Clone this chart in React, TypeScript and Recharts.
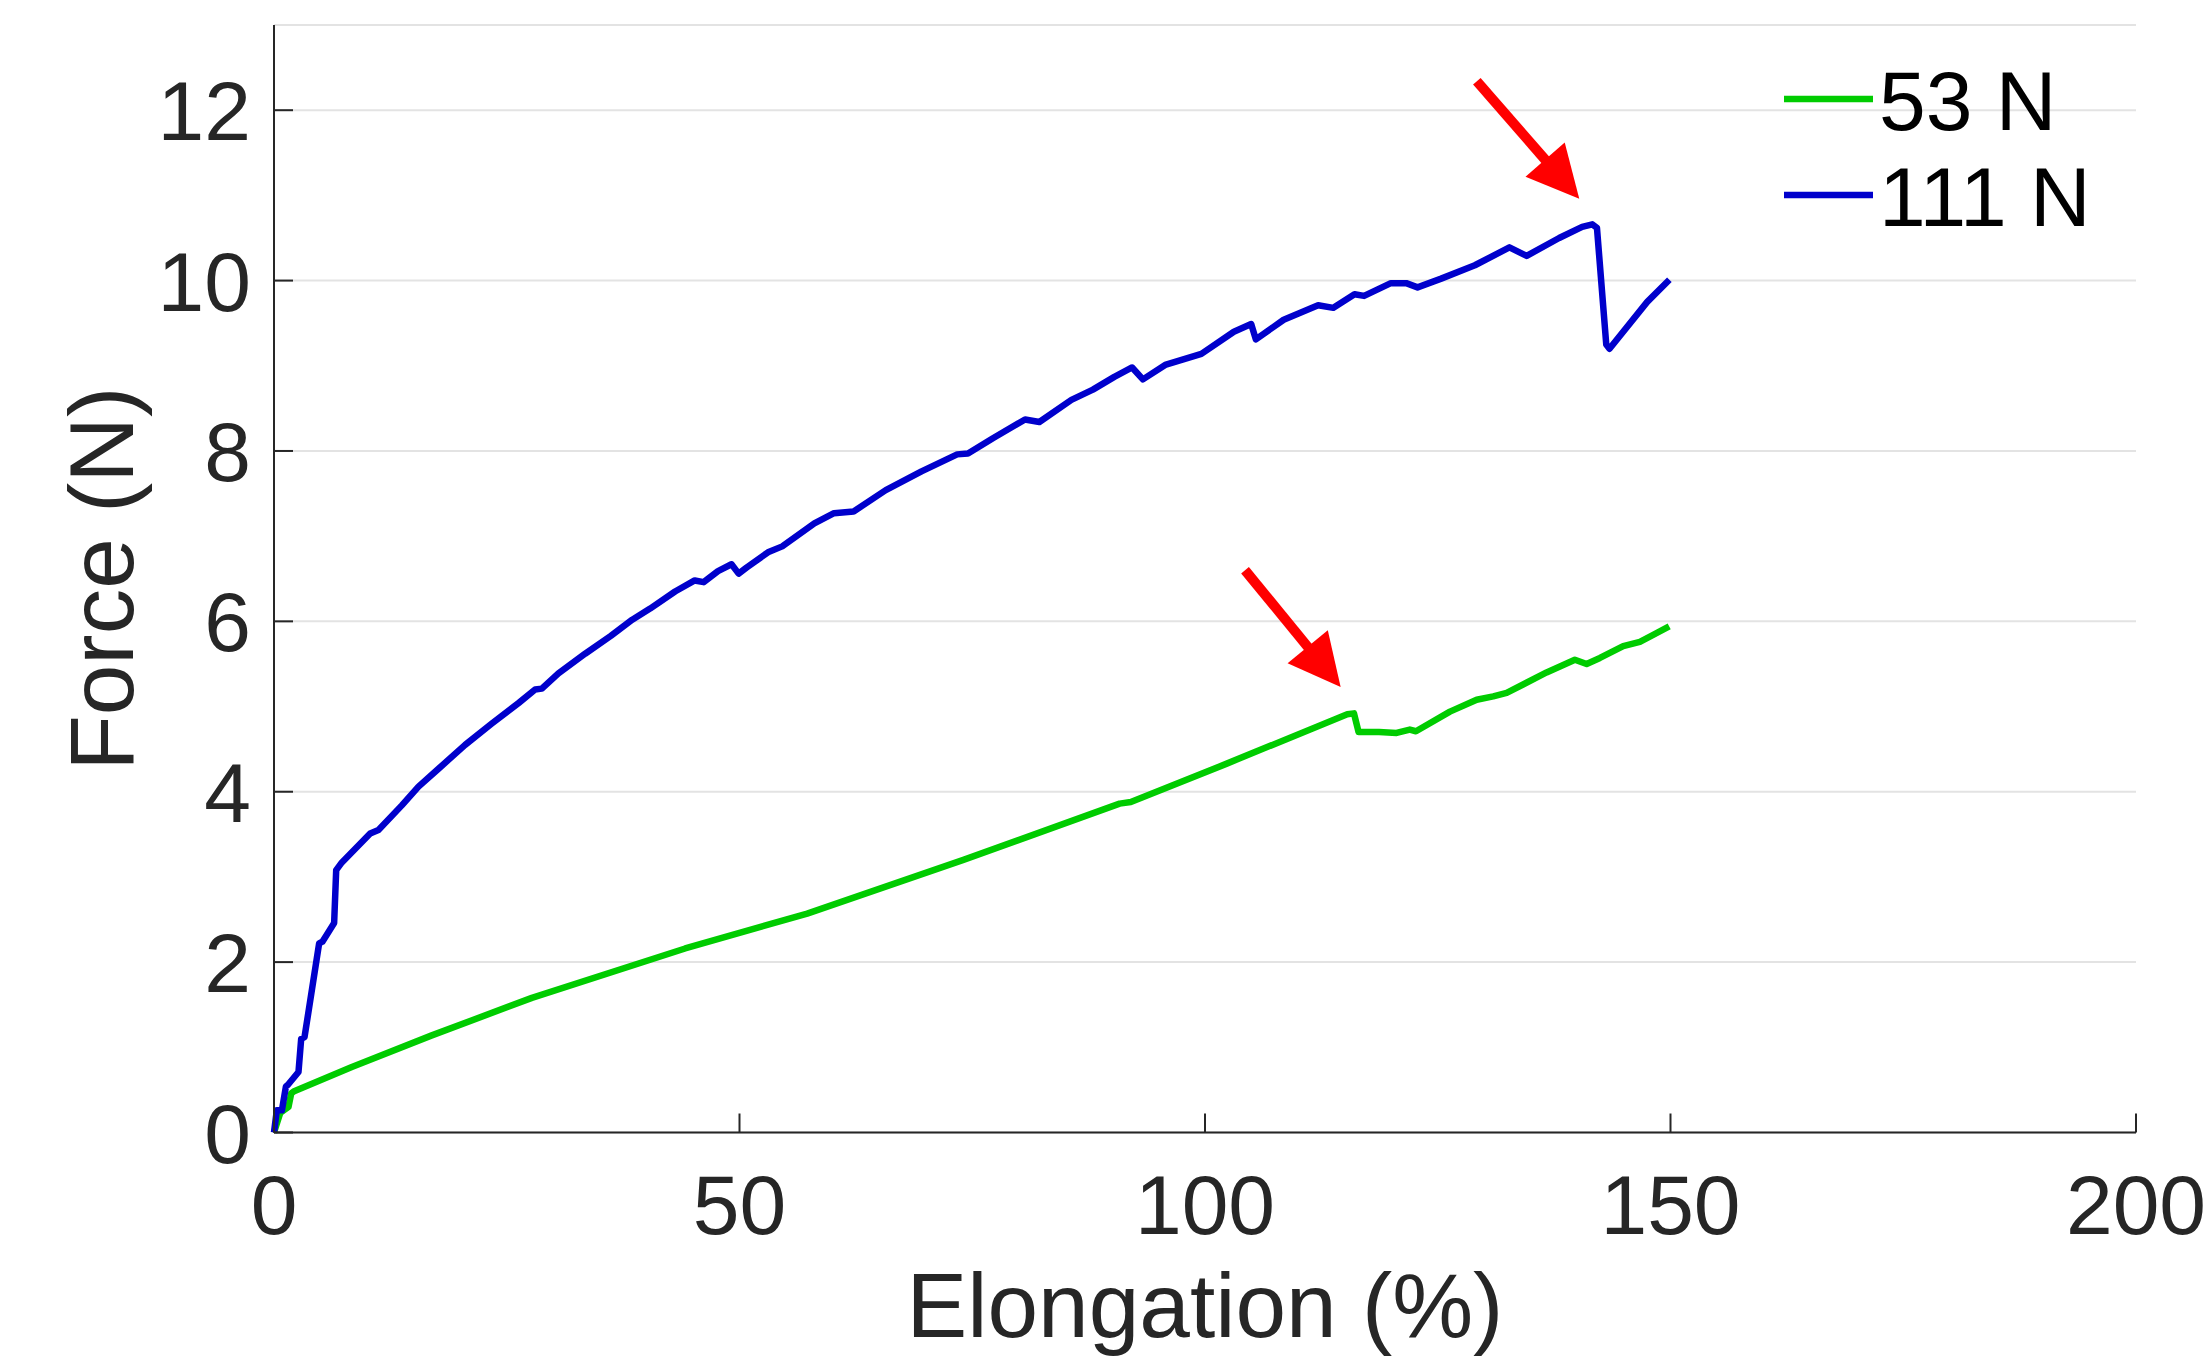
import { LineChart, Line, XAxis, YAxis, CartesianGrid, Legend, ReferenceLine, Label } from 'recharts';

// 53 N sample
const elong53 = [0, 0.67, 1.56, 1.85, 2.1, 8.36, 16.95, 27.7, 44.16, 57.27, 74.05, 90.83, 92.03, 102.34, 115.28, 116.0, 116.5, 118.7, 120.58, 122.0, 122.66, 126.31, 129.18, 130.96, 132.4, 136.69, 139.73, 140.99, 142.42, 144.92, 146.71, 148.14, 149.86];
const force53 = [0, 0.23, 0.3, 0.46, 0.48, 0.77, 1.14, 1.58, 2.16, 2.57, 3.2, 3.86, 3.88, 4.33, 4.91, 4.92, 4.7, 4.7, 4.69, 4.73, 4.71, 4.94, 5.08, 5.12, 5.16, 5.4, 5.55, 5.5, 5.57, 5.71, 5.76, 5.84, 5.94];

// 111 N sample
const elong111 = [0, 0.3, 0.85, 1.28, 1.5, 2.63, 2.92, 3.28, 4.85, 5.2, 6.46, 6.68, 7.29, 9.44, 10.33, 11.22, 13.73, 15.52, 17.67, 20.53, 23.4, 26.26, 28.05, 28.77, 30.55, 33.42, 36.18, 38.48, 40.4, 43.08, 45.19, 46.15, 47.69, 49.14, 49.91, 50.75, 53.06, 54.59, 58.04, 60.15, 62.26, 65.71, 69.55, 73.38, 74.54, 77.22, 80.67, 82.21, 85.65, 87.96, 90.26, 92.17, 93.33, 95.72, 99.61, 103.1, 104.96, 105.46, 108.45, 112.15, 113.79, 116.06, 117.09, 119.96, 121.61, 122.83, 125.3, 128.99, 132.7, 134.55, 138.04, 140.51, 141.6, 142.1, 143.1, 143.45, 147.5, 149.88];
const force111 = [0, 0.26, 0.26, 0.54, 0.56, 0.71, 1.1, 1.12, 2.22, 2.24, 2.46, 3.08, 3.17, 3.41, 3.51, 3.55, 3.84, 4.06, 4.27, 4.55, 4.8, 5.04, 5.2, 5.21, 5.39, 5.62, 5.83, 6.02, 6.15, 6.35, 6.48, 6.46, 6.59, 6.67, 6.56, 6.63, 6.81, 6.88, 7.15, 7.27, 7.29, 7.54, 7.76, 7.96, 7.97, 8.15, 8.37, 8.34, 8.6, 8.72, 8.87, 8.98, 8.84, 9.01, 9.14, 9.4, 9.49, 9.31, 9.54, 9.71, 9.68, 9.84, 9.82, 9.97, 9.97, 9.92, 10.02, 10.18, 10.39, 10.29, 10.5, 10.63, 10.66, 10.62, 9.25, 9.2, 9.75, 10.01];

const seriesNames = ['53 N', '111 N'];
const xTicks = [0, 50, 100, 150, 200];
const yTicks = [0, 2, 4, 6, 8, 10, 12];

// red arrows pointing at the failure points: [tail, tip] in data units
const arrows = [
  [{ x: 129.2, y: 12.34 }, { x: 140.2, y: 10.96 }],
  [{ x: 104.3, y: 6.6 }, { x: 114.57, y: 5.23 }],
];

const data53 = elong53.map((x, i) => ({ x, y: force53[i] }));
const data111 = elong111.map((x, i) => ({ x, y: force111[i] }));

const FONT = '"Liberation Sans", Arial, Helvetica, sans-serif';
const AXIS = '#262626';
const LW = 6.5;

const YTick = (props: any) => {
  const { x, y, payload } = props;
  return (
    <g>
      <line x1={x} y1={y} x2={x + 19} y2={y} stroke={AXIS} strokeWidth={2} />
      <text x={x - 23} y={y + 30} textAnchor="end" fill={AXIS} fontSize={84} fontFamily={FONT}>
        {payload.value}
      </text>
    </g>
  );
};

const XTick = (props: any) => {
  const { x, y, payload } = props;
  return (
    <g>
      <line x1={x} y1={y} x2={x} y2={y - 19} stroke={AXIS} strokeWidth={2} />
      <text x={x} y={y + 101} textAnchor="middle" fill={AXIS} fontSize={84} fontFamily={FONT}>
        {payload.value}
      </text>
    </g>
  );
};

const XLabel = (props: any) => {
  const vb = props.viewBox || { x: 274, y: 1132.5, width: 1862, height: 230 };
  return (
    <text x={vb.x + vb.width / 2} y={vb.y + 204} textAnchor="middle" fill={AXIS} fontSize={91} fontFamily={FONT}>
      Elongation (%)
    </text>
  );
};

const YLabel = (props: any) => {
  const vb = props.viewBox || { x: 0, y: 25, width: 274, height: 1107.5 };
  const cx = vb.x + 133;
  const cy = vb.y + vb.height / 2;
  return (
    <text x={cx} y={cy} transform={`rotate(-90, ${cx}, ${cy})`} textAnchor="middle" fill={AXIS} fontSize={91} fontFamily={FONT}>
      Force (N)
    </text>
  );
};

const Arrow = (props: any) => {
  const { x1, y1, x2, y2 } = props;
  const len = Math.hypot(x2 - x1, y2 - y1);
  const ux = (x2 - x1) / len;
  const uy = (y2 - y1) / len;
  const bx = x2 - ux * 52;
  const by = y2 - uy * 52;
  const half = 26;
  return (
    <g>
      <line x1={x1} y1={y1} x2={bx + ux * 4} y2={by + uy * 4} stroke="#ff0000" strokeWidth={10} />
      <polygon
        points={`${x2},${y2} ${bx - uy * half},${by + ux * half} ${bx + uy * half},${by - ux * half}`}
        fill="#ff0000"
      />
    </g>
  );
};

const renderLegend = (props: any) => {
  const items = [...(props.payload || [])].sort(
    (a: any, b: any) => seriesNames.indexOf(a.value) - seriesNames.indexOf(b.value)
  );
  return (
    <svg width={330} height={200} style={{ display: 'block' }}>
      {items.map((entry: any, i: number) => (
        <g key={entry.value}>
          <line x1={0} x2={89} y1={49 + i * 96} y2={49 + i * 96} stroke={entry.color} strokeWidth={LW} />
          <text x={95} y={80 + i * 96} fill="#000" fontSize={84} fontFamily={FONT}>
            {entry.value}
          </text>
        </g>
      ))}
    </svg>
  );
};

export default function App() {
  return (
    <div style={{ position: 'absolute', left: 0, top: 0, width: 2209, height: 1363, background: '#fff' }}>
      <LineChart width={2209} height={1363} margin={{ top: 25, right: 73, left: 0, bottom: 0 }}>
        <CartesianGrid vertical={false} stroke="#e3e3e3" strokeWidth={2} />
        <XAxis
          type="number"
          dataKey="x"
          domain={[0, 200]}
          ticks={xTicks}
          interval={0}
          height={230.5}
          stroke={AXIS}
          strokeWidth={2}
          tickLine={false}
          tickSize={0}
          tickMargin={0}
          tick={<XTick />}
        >
          <Label content={<XLabel />} />
        </XAxis>
        <YAxis
          type="number"
          domain={[0, 13]}
          ticks={yTicks}
          interval={0}
          width={274}
          stroke={AXIS}
          strokeWidth={2}
          tickLine={false}
          tickSize={0}
          tickMargin={0}
          tick={<YTick />}
        >
          <Label content={<YLabel />} />
        </YAxis>
        <Legend
          layout="horizontal"
          verticalAlign="middle"
          align="center"
          content={renderLegend}
          wrapperStyle={{ left: 1784, top: 50, width: 330, height: 200 }}
        />
        <Line
          data={data53}
          dataKey="y"
          name={seriesNames[0]}
          type="linear"
          stroke="#00cc00"
          strokeWidth={LW}
          strokeLinejoin="round"
          dot={false}
          activeDot={false}
          isAnimationActive={false}
        />
        <Line
          data={data111}
          dataKey="y"
          name={seriesNames[1]}
          type="linear"
          stroke="#0000cc"
          strokeWidth={LW}
          strokeLinejoin="round"
          dot={false}
          activeDot={false}
          isAnimationActive={false}
        />
        {arrows.map((seg, i) => (
          <ReferenceLine key={i} segment={seg} shape={<Arrow />} ifOverflow="visible" />
        ))}
      </LineChart>
    </div>
  );
}
